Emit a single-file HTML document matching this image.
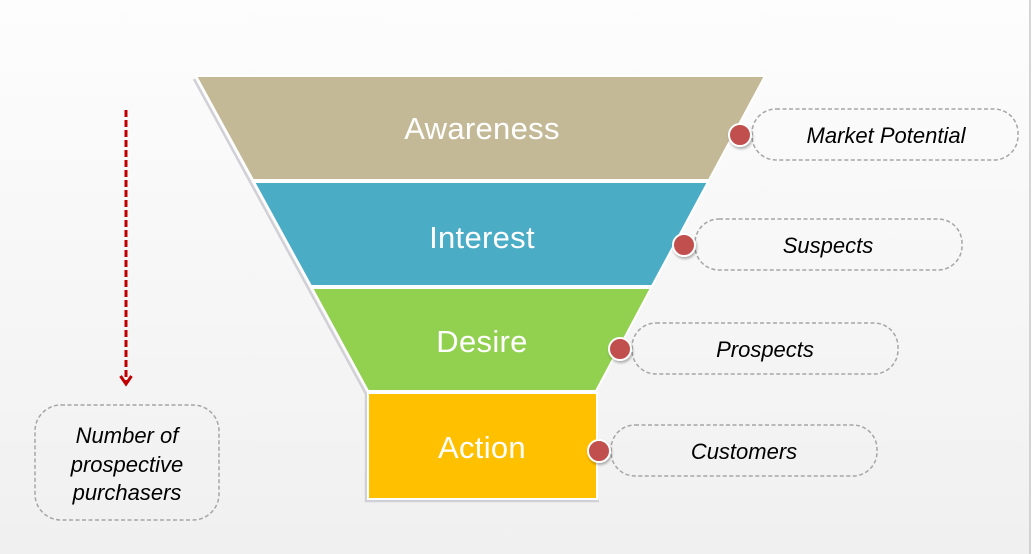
<!DOCTYPE html>
<html>
<head>
<meta charset="utf-8">
<style>
html,body{margin:0;padding:0;}
body{width:1033px;height:554px;overflow:hidden;background:#f4f4f4;}
svg{display:block;}
.t{font-family:"Liberation Sans",Arial,sans-serif;fill:#fff;font-size:31px;text-anchor:middle;letter-spacing:0.3px;}
.l{font-family:"Liberation Sans",Arial,sans-serif;fill:#000;font-size:22px;font-style:italic;text-anchor:middle;}
</style>
</head>
<body>
<svg width="1033" height="554" viewBox="0 0 1033 554" xmlns="http://www.w3.org/2000/svg">
<defs>
<linearGradient id="bg" x1="0" y1="0" x2="0" y2="1">
<stop offset="0" stop-color="#fdfdfd"/>
<stop offset="1" stop-color="#f0f0f0"/>
</linearGradient>
<filter id="ds" x="-50%" y="-50%" width="200%" height="200%">
<feDropShadow dx="1" dy="2" stdDeviation="1.2" flood-color="#000" flood-opacity="0.3"/>
</filter>
</defs>
<rect x="0" y="0" width="1033" height="554" fill="url(#bg)"/>
<line x1="1030" y1="0" x2="1030" y2="554" stroke="#c8c8c8" stroke-width="1.5"/>
<rect x="1031" y="0" width="2" height="554" fill="#ffffff"/>

<!-- funnel shadow -->
<polyline points="194,79 366,394 366,501 599,501" fill="none" stroke="#d0d0d6" stroke-width="2.5"/>

<!-- funnel bands -->
<polygon points="196,76 765,76 709,180 253,180" fill="#c4b996" stroke="#ffffff" stroke-width="2"/>
<polygon points="254,182 708,182 652,286 311,286" fill="#4bacc6" stroke="#ffffff" stroke-width="2"/>
<polygon points="312,288 651,288 596,391 368,391" fill="#92d050" stroke="#ffffff" stroke-width="2"/>
<rect x="368" y="393" width="229" height="106" fill="#ffc000" stroke="#ffffff" stroke-width="2"/>

<text class="t" x="482" y="139">Awareness</text>
<text class="t" x="482" y="248">Interest</text>
<text class="t" x="482" y="352">Desire</text>
<text class="t" x="482" y="458">Action</text>

<!-- label boxes -->
<g fill="none" stroke="#a6a6a6" stroke-width="1.5" stroke-dasharray="4,2.5">
<rect x="752" y="109" width="266" height="51" rx="24"/>
<rect x="695" y="219" width="267" height="51" rx="24"/>
<rect x="632" y="323" width="266" height="51" rx="24"/>
<rect x="611" y="425" width="266" height="51" rx="24"/>
<rect x="35" y="405" width="184" height="115" rx="26"/>
</g>

<text class="l" x="886" y="143">Market Potential</text>
<text class="l" x="828" y="253">Suspects</text>
<text class="l" x="765" y="357">Prospects</text>
<text class="l" x="744" y="459">Customers</text>

<text class="l" x="127" y="443">Number of</text>
<text class="l" x="127" y="472">prospective</text>
<text class="l" x="127" y="500">purchasers</text>

<!-- dots -->
<g fill="#c0504d" stroke="#ffffff" stroke-width="2" filter="url(#ds)">
<circle cx="740" cy="135" r="11"/>
<circle cx="684" cy="245" r="11"/>
<circle cx="620" cy="349" r="11"/>
<circle cx="599" cy="451" r="11"/>
</g>

<!-- left arrow -->
<line x1="126" y1="110" x2="126" y2="383" stroke="#c00000" stroke-width="3" stroke-dasharray="7,3"/>
<polyline points="120.5,376 126,384 131.5,376" fill="none" stroke="#c00000" stroke-width="3" stroke-linejoin="miter"/>
</svg>
</body>
</html>
